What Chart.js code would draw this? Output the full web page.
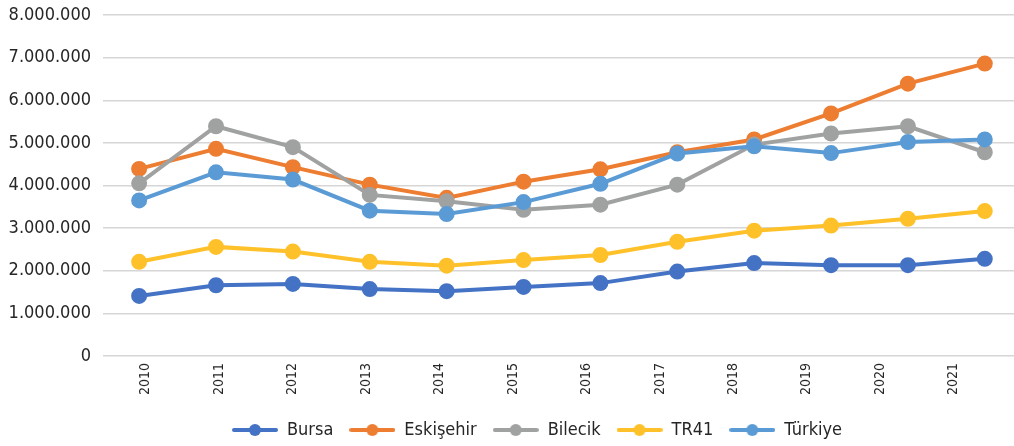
<!DOCTYPE html>
<html>
<head>
<meta charset="utf-8">
<script src="https://cdn.jsdelivr.net/npm/chart.js@4"></script>
<style>
  html, body { margin: 0; padding: 0; background: #fff; }
  #wrap { width: 1014px; height: 446px; }
</style>
</head>
<body>
<div id="wrap"><canvas id="myChart" width="1014" height="446"></canvas></div>
<script>
var years = ['2010','2011','2012','2013','2014','2015','2016','2017','2018','2019','2020','2021']
var bursa     = [1410000,1660000,1690000,1570000,1520000,1620000,1710000,1980000,2180000,2130000,2130000,2280000]
var eskisehir = [4390000,4860000,4430000,4020000,3710000,4090000,4380000,4780000,5080000,5690000,6390000,6860000]
var bilecik   = [4050000,5390000,4900000,3780000,3630000,3430000,3550000,4020000,4960000,5220000,5390000,4780000]
var tr41      = [2210000,2560000,2450000,2210000,2120000,2250000,2370000,2680000,2940000,3060000,3220000,3400000]
var turkiye   = [3650000,4310000,4140000,3410000,3330000,3610000,4040000,4750000,4920000,4760000,5020000,5080000]

var font = "'DejaVu Sans Condensed', 'Liberation Sans', sans-serif"
var textColor = '#262626'

function pts(arr) {
  return arr.map(function (v, i) { return {x: i, y: v} })
}

// legend marker: short line with a dot in the middle
function marker(color) {
  var c = document.createElement('canvas')
  c.width = 46
  c.height = 14
  var g = c.getContext('2d')
  g.strokeStyle = color
  g.lineWidth = 4
  g.lineCap = 'round'
  g.beginPath()
  g.moveTo(2, 7)
  g.lineTo(44, 7)
  g.stroke()
  g.fillStyle = color
  g.beginPath()
  g.arc(23, 7, 6, 0, Math.PI * 2)
  g.fill()
  return c
}

function ds(label, arr, color, order) {
  return {
    label: label,
    data: pts(arr),
    borderColor: color,
    backgroundColor: color,
    pointBackgroundColor: color,
    pointBorderColor: color,
    borderWidth: 4,
    pointRadius: 6,
    pointHoverRadius: 6,
    tension: 0,
    order: order,
    _marker: marker(color)
  }
}

var data = {
  datasets: [
    ds('Bursa', bursa, '#4472C4', 4),
    ds('Eskişehir', eskisehir, '#ED7D31', 3),
    ds('Bilecik', bilecik, '#A0A2A2', 2),
    ds('TR41', tr41, '#FFC12A', 1),
    ds('Türkiye', turkiye, '#5B9BD5', 0)
  ]
}

// the legend sits a bit right of centre in the original
var legendNudge = {
  id: 'legendNudge',
  afterLayout: function (chart) {
    var lg = chart.legend
    lg.left += 30
    lg.right += 30
  }
}

var config = {
  type: 'line',
  data: data,
  plugins: [legendNudge],
  options: {
    responsive: false,
    animation: false,
    layout: { autoPadding: false, padding: { top: 15, right: 0, left: 0, bottom: -3 } },
    plugins: {
      tooltip: { enabled: false },
      legend: {
        position: 'bottom',
        labels: {
          usePointStyle: true,
          pointStyleWidth: 46,
          padding: 16,
          color: textColor,
          font: { family: font, size: 18 },
          generateLabels: function (chart) {
            return chart.data.datasets.map(function (d, i) {
              return {
                text: d.label,
                fillStyle: d.borderColor,
                strokeStyle: d.borderColor,
                lineWidth: 0,
                pointStyle: d._marker,
                datasetIndex: i,
                hidden: false,
                fontColor: textColor
              }
            })
          }
        }
      }
    },
    scales: {
      x: {
        type: 'linear',
        min: -0.47,
        max: 11.38,
        display: false
      },
      xl: {
        type: 'linear',
        position: 'bottom',
        min: -0.58,
        max: 11.82,
        grid: { display: false, drawTicks: false },
        border: { display: false },
        afterBuildTicks: function (scale) {
          scale.ticks = years.map(function (y, i) { return {value: i} })
        },
        afterFit: function (scale) {
          scale.height = 49
          scale.paddingLeft = 0
          scale.paddingRight = 0
        },
        ticks: {
          autoSkip: false,
          minRotation: 90,
          maxRotation: 90,
          padding: 7,
          color: textColor,
          font: { family: font, size: 14 },
          callback: function (v) { return years[v] }
        }
      },
      y: {
        min: 0,
        max: 8000000,
        afterFit: function (scale) {
          scale.width = 103
          scale.paddingTop = 0
          scale.paddingBottom = 0
        },
        grid: { color: '#d6d6d6', lineWidth: 1.5, drawTicks: false },
        border: { display: false },
        ticks: {
          stepSize: 1000000,
          padding: 12,
          color: textColor,
          font: { family: font, size: 18 },
          callback: function (v) {
            return String(v).replace(/\B(?=(\d{3})+(?!\d))/g, '.')
          }
        }
      }
    }
  }
}

var mychart = new Chart(document.getElementById('myChart'), config)
</script>
</body>
</html>
